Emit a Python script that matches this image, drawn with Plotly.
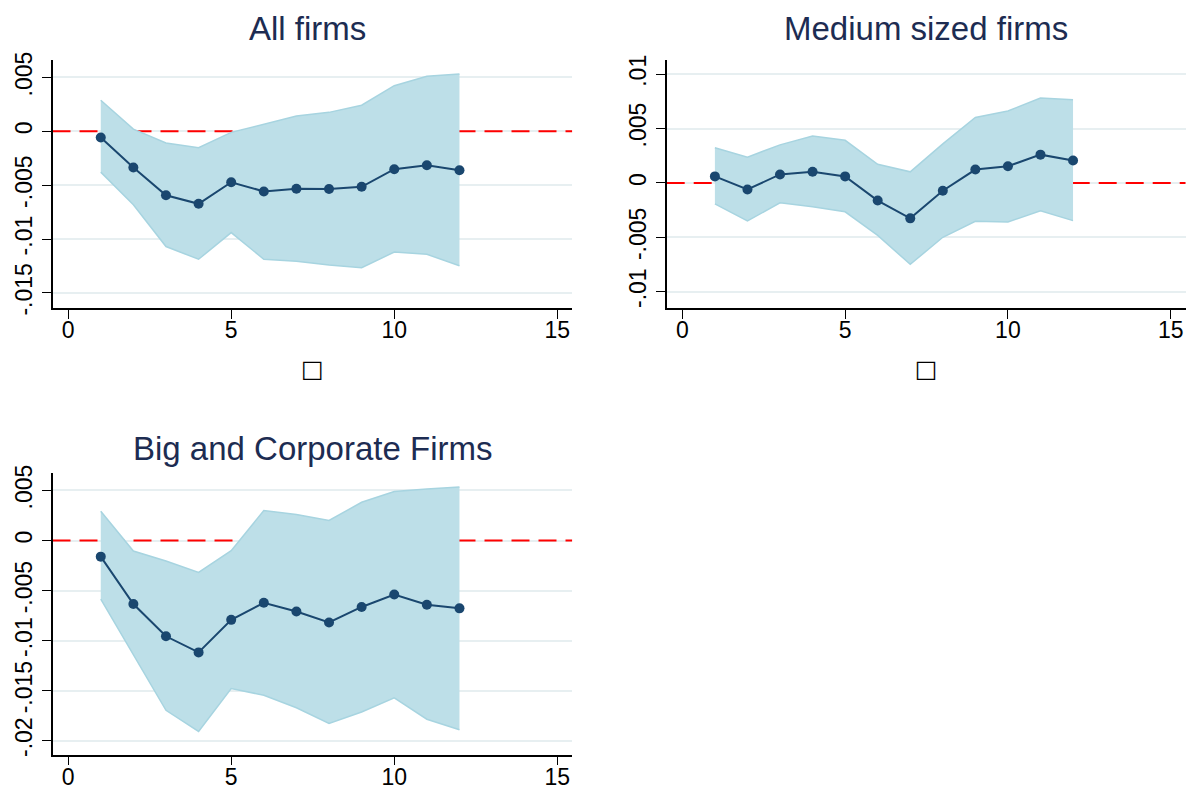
import plotly.graph_objects as go

horizon = [1, 2, 3, 4, 5, 6, 7, 8, 9, 10, 11, 12]

# All firms
all_coef = [-0.00058, -0.00336, -0.00594, -0.00673, -0.00473, -0.00558,
            -0.00533, -0.00536, -0.00515, -0.00352, -0.00315, -0.00361]
all_upper = [0.00288, 0.00020, -0.00109, -0.00152, -0.00010, 0.00067,
             0.00142, 0.00176, 0.00242, 0.00424, 0.00512, 0.00533]
all_lower = [-0.00379, -0.00682, -0.01070, -0.01188, -0.00940, -0.01188,
             -0.01206, -0.01242, -0.01267, -0.01121, -0.01142, -0.01248]

# Medium sized firms
med_coef = [0.00060, -0.00060, 0.00078, 0.00102, 0.00060, -0.00162,
            -0.00326, -0.00072, 0.00123, 0.00153, 0.00260, 0.00207]
med_upper = [0.00323, 0.00237, 0.00350, 0.00431, 0.00392, 0.00171,
             0.00102, 0.00359, 0.00602, 0.00662, 0.00781, 0.00766]
med_lower = [-0.00192, -0.00350, -0.00183, -0.00219, -0.00266, -0.00482,
             -0.00749, -0.00500, -0.00353, -0.00359, -0.00257, -0.00347]

# Big and Corporate Firms
big_coef = [-0.00161, -0.00635, -0.00957, -0.01118, -0.00793, -0.00622,
            -0.00710, -0.00819, -0.00664, -0.00540, -0.00642, -0.00678]
big_upper = [0.00293, -0.00105, -0.00204, -0.00319, -0.00102, 0.00299,
             0.00260, 0.00200, 0.00382, 0.00490, 0.00516, 0.00536]
big_lower = [-0.00586, -0.01145, -0.01697, -0.01908, -0.01480, -0.01546,
             -0.01671, -0.01829, -0.01714, -0.01572, -0.01786, -0.01891]

titles = ["All firms", "Medium sized firms", "Big and Corporate Firms"]

x_ticks = [0, 5, 10, 15]
y1_ticks = [-0.015, -0.01, -0.005, 0, 0.005]
y1_text = ["-.015", "-.01", "-.005", "0", ".005"]
y2_ticks = [-0.01, -0.005, 0, 0.005, 0.01]
y2_text = ["-.01", "-.005", "0", ".005", ".01"]
y3_ticks = [-0.02, -0.015, -0.01, -0.005, 0, 0.005]
y3_text = ["-.02", "-.015", "-.01", "-.005", "0", ".005"]

x_range = [-0.48, 15.46]
y1_range = [-0.01640, 0.00665]
y2_range = [-0.01150, 0.01128]
y3_range = [-0.02140, 0.00674]
ref_level = 0

W, H = 1188, 796
FILL = "#bddfe8"
EDGE = "#a7d4e0"
NAVY = "#1a476f"
GRID = "#e7eff1"
TITLE_C = "#1d2c52"
FONT = "Liberation Sans, Arial, sans-serif"

fig = go.Figure()

panels = [
    ("x", "y", all_coef, all_upper, all_lower),
    ("x2", "y2", med_coef, med_upper, med_lower),
    ("x3", "y3", big_coef, big_upper, big_lower),
]

for xa, ya, coef, up, lo in panels:
    # red dashed reference line at zero (drawn beneath the band)
    fig.add_trace(go.Scatter(x=x_range, y=[ref_level, ref_level], xaxis=xa, yaxis=ya,
                             mode="lines", showlegend=False, hoverinfo="skip",
                             line=dict(color="#ff0000", width=2, dash="18px,9px")))
    fig.add_trace(go.Scatter(x=horizon, y=lo, xaxis=xa, yaxis=ya, mode="lines",
                             line=dict(color=EDGE, width=1.5), showlegend=False,
                             hoverinfo="skip"))
    fig.add_trace(go.Scatter(x=horizon, y=up, xaxis=xa, yaxis=ya, mode="lines",
                             line=dict(color=EDGE, width=1.5), fill="tonexty",
                             fillcolor=FILL, showlegend=False, hoverinfo="skip"))
    fig.add_trace(go.Scatter(x=horizon, y=coef, xaxis=xa, yaxis=ya,
                             mode="lines+markers",
                             line=dict(color=NAVY, width=2),
                             marker=dict(color=NAVY, size=10),
                             showlegend=False))

def px_x(a, b):
    return [a / W, b / W]

def px_y(top, bottom):
    return [1 - bottom / H, 1 - top / H]

axis_common = dict(showline=True, linecolor="black", linewidth=1.5,
                   ticks="outside", ticklen=9, tickwidth=1.2, tickcolor="black",
                   tickfont=dict(size=23, color="black", family=FONT),
                   zeroline=False, mirror=False)

xdoms = [px_x(52.5, 572.3), px_x(666.7, 1185.7), px_x(52.5, 572.3)]
ydoms = [px_y(52.7, 305.7), px_y(53.3, 305.7), px_y(474, 761)]
yticks = [(y1_ticks, y1_text, y1_range), (y2_ticks, y2_text, y2_range),
          (y3_ticks, y3_text, y3_range)]
xanchors = ["y", "y2", "y3"]
yanchors = ["x", "x2", "x3"]

layout = {}
for i in range(3):
    sfx = "" if i == 0 else str(i + 1)
    xa = dict(axis_common, domain=xdoms[i], range=x_range, tickvals=x_ticks,
              showgrid=False, anchor=xanchors[i], ticklabelstandoff=-8)
    if i < 2:
        xa["title"] = dict(text="□", font=dict(size=24, color="black",
                                              family="DejaVu Sans"), standoff=18)
    tv, tt, rg = yticks[i]
    ya = dict(axis_common, domain=ydoms[i], range=rg, tickvals=tv, ticktext=tt,
              tickangle=-90, showgrid=True, gridcolor=GRID, gridwidth=1.5,
              anchor=yanchors[i], ticklabelstandoff=1)
    layout["xaxis" + sfx] = xa
    layout["yaxis" + sfx] = ya

fig.update_layout(**layout)

title_pos = [(307 / W, 1 - 21 / H), (926 / W, 1 - 21 / H), (312 / W, 1 - 449 / H)]
for t, (tx, ty) in zip(titles, title_pos):
    fig.add_annotation(text=t, x=tx, y=ty, xref="paper", yref="paper",
                       xanchor="center", yanchor="middle", showarrow=False,
                       font=dict(size=33, color=TITLE_C, family=FONT))

fig.update_layout(width=W, height=H, margin=dict(l=0, r=0, t=0, b=0),
                  paper_bgcolor="white", plot_bgcolor="white",
                  font=dict(family=FONT))

fig.write_html("out.html", config={"displayModeBar": False},
               post_script="document.body.style.margin='0';"
                           "document.body.style.overflow='hidden';")
